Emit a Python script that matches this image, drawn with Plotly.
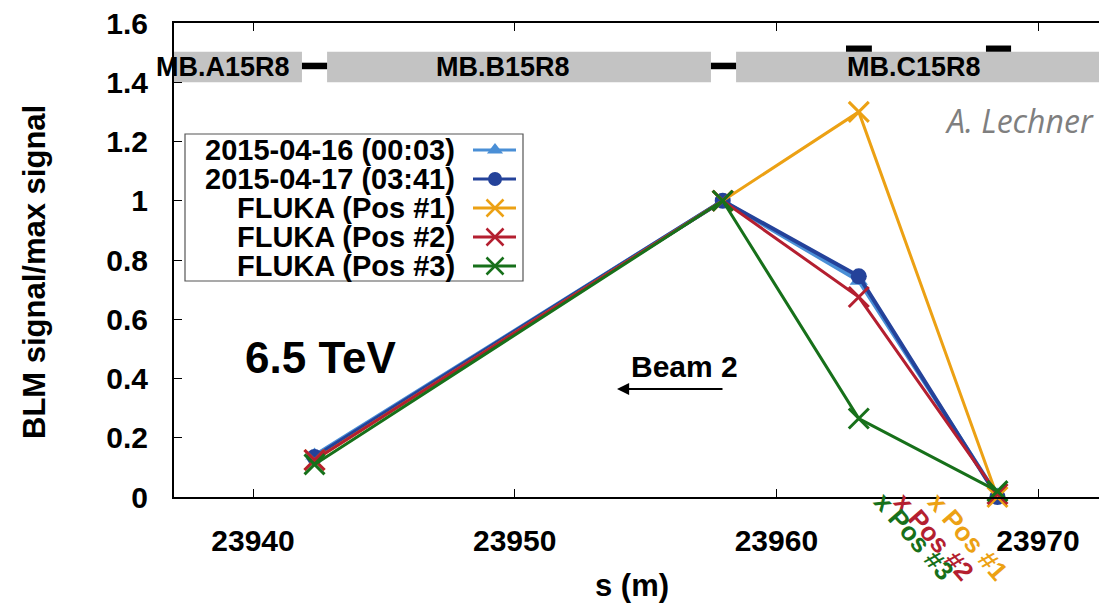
import plotly.graph_objects as go

# BLM positions along the ring (m) and normalised signals
s_blm = [23942.35, 23957.95, 23963.15, 23968.45]
sig_0416 = [0.14, 1.0, 0.73, 0.005]
sig_0417 = [0.135, 1.0, 0.745, 0.0]
fluka_pos1 = [0.125, 1.0, 1.30, 0.0]
fluka_pos2 = [0.125, 1.0, 0.675, 0.01]
fluka_pos3 = [0.11, 1.0, 0.265, 0.02]

series_names = ["2015-04-16 (00:03)", "2015-04-17 (03:41)",
                "FLUKA (Pos #1)", "FLUKA (Pos #2)", "FLUKA (Pos #3)"]
series_values = [sig_0416, sig_0417, fluka_pos1, fluka_pos2, fluka_pos3]
series_colors = ["#4a8fd6", "#24429a", "#eca114", "#b41f30", "#17701a"]
series_symbols = ["triangle-up", "circle", "x-thin", "x-thin", "x-thin"]

# Loss positions used in the FLUKA simulations
pos_s = [23965.8, 23964.5, 23963.75]
pos_text = ["x Pos #1", "x Pos #2", "x Pos #3"]
pos_colors = ["#eca114", "#b41f30", "#17701a"]

# Dipole layout
mag_names = ["MB.A15R8", "MB.B15R8", "MB.C15R8"]
mag_start = [23927.2, 23942.83, 23958.46]
mag_end = [23941.87, 23957.5, 23973.1]
mag_label_s = [23938.85, 23949.55, 23965.26]
inter_start = [23941.87, 23957.5]
inter_end = [23942.83, 23958.46]
bpm_start = [23962.66, 23968.01]
bpm_end = [23963.65, 23968.97]

x_ticks = [23940, 23950, 23960, 23970]
x_tick_text = ["23940", "23950", "23960", "23970"]
y_ticks = [0, 0.2, 0.4, 0.6, 0.8, 1.0, 1.2, 1.4, 1.6]
y_tick_text = ["0", "0.2", "0.4", "0.6", "0.8", "1", "1.2", "1.4", "1.6"]

FONT = "Liberation Sans, Arial, sans-serif"

W, H = 1099, 604
L, R, T, B = 174, 0, 23, 107
PW, PH = W - L - R, H - T - B

fig = go.Figure()

for name, vals, col, sym in zip(series_names, series_values, series_colors, series_symbols):
    is_x = sym.startswith("x")
    fig.add_trace(go.Scatter(
        x=s_blm, y=vals, mode="lines+markers", name=name,
        line=dict(color=col, width=4 if not is_x else 3),
        marker=dict(symbol=sym, size=20 if is_x else 16, color=col,
                    line=dict(color=col, width=3 if is_x else 0)),
        showlegend=False, cliponaxis=False,
    ))

shapes = []
# magnets
for a, b in zip(mag_start, mag_end):
    shapes.append(dict(type="rect", xref="x", yref="y", x0=a, x1=b, y0=1.40, y1=1.503,
                       fillcolor="#c3c3c3", line=dict(width=0), layer="below"))
for a, b in zip(inter_start, inter_end):
    shapes.append(dict(type="rect", xref="x", yref="y", x0=a, x1=b, y0=1.444, y1=1.466,
                       fillcolor="black", line=dict(width=0), layer="below"))
for a, b in zip(bpm_start, bpm_end):
    shapes.append(dict(type="rect", xref="x", yref="y", x0=a, x1=b, y0=1.503, y1=1.524,
                       fillcolor="black", line=dict(width=0), layer="below"))

annotations = []
for nm, sx in zip(mag_names, mag_label_s):
    annotations.append(dict(x=sx, y=1.452, xref="x", yref="y", text=nm, showarrow=False,
                            font=dict(family=FONT, size=27, color="black", weight="bold"),
                            xanchor="center", yanchor="middle"))

for sx, txt, col in zip(pos_s, pos_text, pos_colors):
    annotations.append(dict(x=sx, y=0, xref="x", yref="y", text=txt, showarrow=False,
                            textangle=49, xshift=40, yshift=-40,
                            font=dict(family=FONT, size=26, color=col, weight="bold"),
                            xanchor="center", yanchor="middle"))

# pixel helper axes (x2/y2) for legend and free text
annotations.append(dict(x=320, y=357, xref="x2", yref="y2", text="6.5 TeV", showarrow=False,
                        font=dict(family=FONT, size=44, color="black", weight="bold")))
annotations.append(dict(x=684, y=366, xref="x2", yref="y2", text="Beam 2", showarrow=False,
                        font=dict(family=FONT, size=30, color="black", weight="bold")))
annotations.append(dict(x=617, y=389, ax=724, ay=389, xref="x2", yref="y2",
                        axref="x2", ayref="y2", text="", showarrow=True,
                        arrowhead=2, arrowsize=1.1, arrowwidth=2.2, arrowcolor="black"))
annotations.append(dict(x=1096, y=120, xref="x2", yref="y2", text="A. Lechner", showarrow=False,
                        xanchor="right", yanchor="middle",
                        font=dict(family="Open Sans, sans-serif", size=32, color="#7f7f7f",
                                  style="italic")))

# axis titles
annotations.append(dict(x=0, y=(H - B - 272) / PH, xref="paper", yref="paper",
                        xshift=-(L - 34), text="BLM signal/max signal",
                        showarrow=False, textangle=-90, xanchor="center", yanchor="middle",
                        font=dict(family=FONT, size=31, color="black", weight="bold")))
annotations.append(dict(x=(632 - L) / PW, y=0, xref="paper", yref="paper",
                        yshift=-(585 - (H - B)), text="s (m)", showarrow=False,
                        xanchor="center", yanchor="middle",
                        font=dict(family=FONT, size=31, color="black", weight="bold")))

# legend
leg_rows = [150, 179, 208, 237, 266]
shapes.append(dict(type="rect", xref="x2", yref="y2", x0=185, x1=523, y0=134, y1=281,
                   line=dict(color="#555555", width=1.2), fillcolor="white", layer="below"))
for yy, name, col in zip(leg_rows, series_names, series_colors):
    annotations.append(dict(x=457, y=yy, xref="x2", yref="y2", text=name, showarrow=False,
                            xanchor="right", yanchor="middle",
                            font=dict(family=FONT, size=29, color="black", weight="bold")))
    shapes.append(dict(type="line", xref="x2", yref="y2", x0=473, x1=516, y0=yy, y1=yy,
                       line=dict(color=col, width=3)))
for yy, col, sym in zip(leg_rows, series_colors, series_symbols):
    is_x = sym.startswith("x")
    fig.add_trace(go.Scatter(
        x=[495], y=[yy], xaxis="x2", yaxis="y2", mode="markers", showlegend=False,
        hoverinfo="skip", cliponaxis=False,
        marker=dict(symbol=sym, size=17 if is_x else 14, color=col,
                    line=dict(color=col, width=2.5 if is_x else 0)),
    ))

fig.update_layout(
    width=W, height=H,
    margin=dict(l=L, r=R, t=T, b=B),
    paper_bgcolor="white", plot_bgcolor="white",
    showlegend=False,
    shapes=shapes, annotations=annotations,
    xaxis=dict(range=[23936.98, 23972.33], tickvals=x_ticks, ticktext=x_tick_text,
               ticks="inside", ticklen=8,
               tickwidth=1, tickcolor="black", showline=True, linecolor="black", linewidth=2,
               mirror="ticks", showgrid=False, zeroline=False, ticklabelstandoff=16,
               tickfont=dict(family=FONT, size=30, color="black", weight="bold")),
    yaxis=dict(range=[0, 1.6], tickvals=y_ticks, ticktext=y_tick_text, ticks="inside",
               ticklen=8, tickwidth=1, tickcolor="black", showline=True, linecolor="black",
               linewidth=2, showgrid=False, zeroline=False, ticklabelstandoff=18,
               tickfont=dict(family=FONT, size=30, color="black", weight="bold")),
    xaxis2=dict(overlaying="x", range=[L, W - R], visible=False, fixedrange=True),
    yaxis2=dict(overlaying="y", range=[H - B, T], visible=False, fixedrange=True),
)

fig.write_html("out.html")
